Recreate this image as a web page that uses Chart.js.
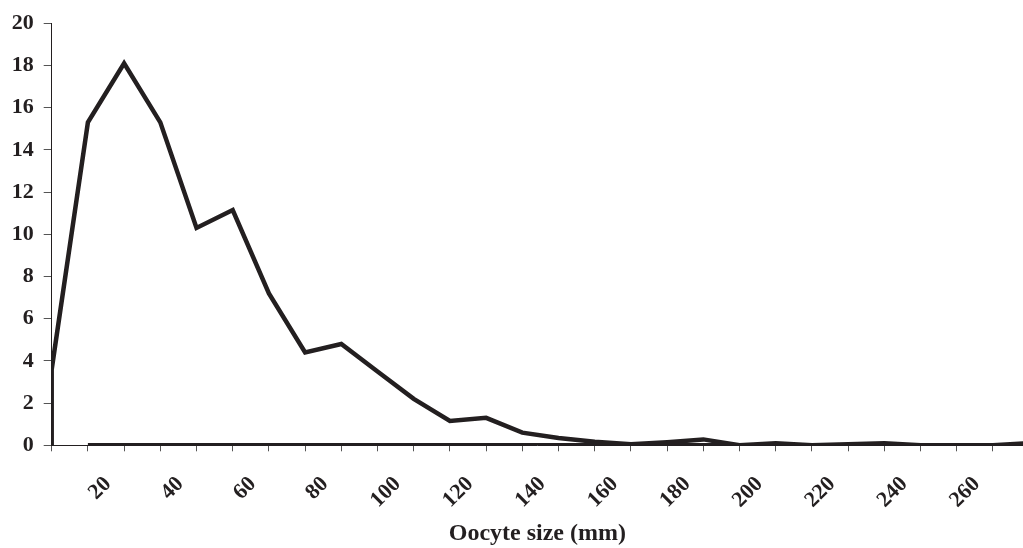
<!DOCTYPE html>
<html>
<head>
<meta charset="utf-8">
<script src="https://cdn.jsdelivr.net/npm/chart.js@4/dist/chart.umd.min.js"></script>
<style>
  html, body { margin: 0; padding: 0; background: #fff; }
  #wrap { width: 1023px; height: 548px; }
</style>
</head>
<body>
<div id="wrap"><canvas id="chart" width="1023" height="548"></canvas></div>
<script>
// oocyte size classes (mm) and frequency (%)
const sizeClasses = [10, 20, 30, 40, 50, 60, 70, 80, 90, 100, 110, 120, 130, 140,
  150, 160, 170, 180, 190, 200, 210, 220, 230, 240, 250, 260, 270, 280];
const frequency = [3.6, 15.3, 18.1, 15.3, 10.3, 11.15, 7.2, 4.4, 4.8, 3.5, 2.2, 1.15, 1.3, 0.6,
  0.35, 0.17, 0.05, 0.15, 0.28, 0, 0.1, 0, 0.05, 0.1, 0, 0, 0, 0.1];
const startValue = 0;              // curve rises from zero at the first class
const baselineSizes = [20, 280];   // the flat zero trace along the axis
const baselineValues = [0, 0];
const xLabels = [20, 40, 60, 80, 100, 120, 140, 160, 180, 200, 220, 240, 260];
const yMax = 20, yStep = 2;

const ink = "#231f20";
const serif = '"Liberation Serif", "Times New Roman", serif';

const curve = [{ x: sizeClasses[0], y: startValue }]
  .concat(sizeClasses.map((s, i) => ({ x: s, y: frequency[i] })));
const baseline = baselineSizes.map((s, i) => ({ x: s, y: baselineValues[i] }));

const lineStyle = {
  borderColor: ink,
  borderWidth: 4.5,
  borderJoinStyle: "miter",
  pointRadius: 0,
  tension: 0,
  fill: false,
};

new Chart(document.getElementById("chart"), {
  type: "line",
  data: {
    datasets: [
      { label: "baseline", data: baseline, ...lineStyle },
      { label: "frequency", data: curve, ...lineStyle },
    ],
  },
  options: {
    responsive: false,
    animation: false,
    layout: { padding: { top: 22, right: 0, left: 0, bottom: 0 } },
    plugins: { legend: { display: false }, tooltip: { enabled: false } },
    scales: {
      x: {
        type: "linear",
        min: 10,
        max: 278.3,
        grid: { drawOnChartArea: false, drawTicks: true, tickLength: 6, color: "#555", lineWidth: 1 },
        border: { color: ink, width: 1 },
        ticks: {
          stepSize: 10,
          includeBounds: false,
          autoSkip: false,
          minRotation: 45,
          maxRotation: 45,
          labelOffset: 20,
          padding: 20,
          color: ink,
          font: { family: serif, weight: "bold", size: 22 },
          callback: v => (xLabels.includes(v) ? String(v) : ""),
        },
        title: {
          display: true,
          text: "Oocyte size (mm)",
          color: ink,
          font: { family: serif, weight: "bold", size: 24 },
          padding: { top: 0, bottom: 0 },
        },
        afterFit: s => { s.height = 102.7; s.paddingLeft = 0; s.paddingRight = 0; },
      },
      y: {
        min: 0,
        max: yMax,
        grid: { drawOnChartArea: false, drawTicks: true, tickLength: 8, color: "#555", lineWidth: 1 },
        border: { color: ink, width: 1 },
        ticks: {
          stepSize: yStep,
          padding: 10,
          color: ink,
          font: { family: serif, weight: "bold", size: 22 },
        },
        afterFit: s => { s.width = 51.7; },
      },
    },
  },
});
</script>
</body>
</html>
